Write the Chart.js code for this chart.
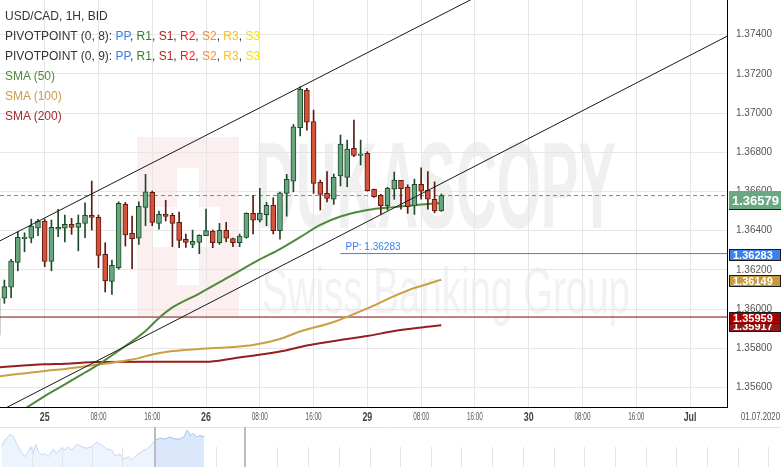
<!DOCTYPE html>
<html lang="en">
<head>
  <meta charset="UTF-8" />
  <title>USD/CAD, 1H, BID</title>
  <script src="https://cdn.jsdelivr.net/npm/chart.js@4.4.1/dist/chart.umd.min.js"></script>
  <style>
    html, body { margin: 0; padding: 0; background: #fff; }
    #wrap { position: relative; width: 781px; height: 467px; overflow: hidden; font-family: "Liberation Sans", Arial, sans-serif; }
    #main { position: absolute; left: 0; top: 0; }
    #nav { position: absolute; left: 0; top: 427px; }
    #legend { position: absolute; left: 5px; top: 6px; font-size: 12px; line-height: 20px; color: #333; white-space: nowrap; }
    .pp { color: #3c7fe6; } .r1 { color: #3a7d2c; } .s1 { color: #b22222; } .r2 { color: #ff1a1a; }
    .s2 { color: #ff8c1a; } .r3 { color: #ffc20e; } .s3 { color: #f2e40a; }
  </style>
</head>
<body>
  <div id="wrap">
    <canvas id="main" width="781" height="427"></canvas>
    <canvas id="nav" width="781" height="40"></canvas>
    <div id="legend">
      <div>USD/CAD, 1H, BID</div>
      <div>PIVOTPOINT (0, 8): <span class="pp">PP</span>, <span class="r1">R1</span>, <span class="s1">S1</span>, <span class="r2">R2</span>, <span class="s2">S2</span>, <span class="r3">R3</span>, <span class="s3">S3</span></div>
      <div>PIVOTPOINT (0, 9): <span class="pp">PP</span>, <span class="r1">R1</span>, <span class="s1">S1</span>, <span class="r2">R2</span>, <span class="s2">S2</span>, <span class="r3">R3</span>, <span class="s3">S3</span></div>
      <div style="color:#4e8a3c">SMA (50)</div>
      <div style="color:#c7a046">SMA (100)</div>
      <div style="color:#a4282c">SMA (200)</div>
    </div>
  </div>

  <script>
    // hour index of each candle, 0 = 25 Jun 00:00
    const HOURS = [];
    for (let h = -7; h <= 59; h++) HOURS.push(h);

    const OPEN = [1.35867,1.36055,1.36111,1.36238,1.36359,1.36361,1.36412,
      1.36449,1.36243,1.36407,1.36412,1.36432,1.36417,1.36437,1.36478,1.36468,1.36279,1.36141,1.36211,1.36534,1.36386,1.36361,1.36519,1.36595,1.36437,1.36485,1.36478,1.36442,1.36356,1.36330,1.36340,
      1.36374,1.36398,1.36339,1.36402,1.36359,1.36338,1.36366,1.36488,1.36453,1.36481,1.36529,1.36400,1.36590,1.36652,1.36925,1.37116,1.36956,1.36646,1.36590,1.36560,1.36679,1.36672,1.36820,1.36784,
      1.36794,1.36611,1.36580,1.36527,1.36612,1.36657,1.36621,1.36526,1.36636,1.36606,1.36560,1.36500];
    const HIGH = [1.36066,1.36148,1.36254,1.36394,1.36389,1.36458,1.36458,
      1.36459,1.36454,1.36509,1.36480,1.36463,1.36480,1.36542,1.36653,1.36480,1.36338,1.36250,1.36547,1.36544,1.36474,1.36547,1.36687,1.36602,1.36500,1.36555,1.36488,1.36495,1.36383,1.36403,1.36379,
      1.36510,1.36403,1.36437,1.36442,1.36362,1.36383,1.36491,1.36580,1.36616,1.36544,1.36568,1.36597,1.36687,1.36942,1.37134,1.37126,1.37015,1.36658,1.36701,1.36689,1.36888,1.36862,1.36964,1.36862,
      1.36803,1.36612,1.36585,1.36621,1.36699,1.36657,1.36634,1.36663,1.36721,1.36701,1.36649,1.36587];
    const LOW = [1.35842,1.36029,1.36058,1.36195,1.36292,1.36338,1.36374,
      1.36216,1.36195,1.36369,1.36343,1.36381,1.36297,1.36364,1.36403,1.36211,1.36087,1.36075,1.36203,1.36321,1.36206,1.36330,1.36425,1.36425,1.36407,1.36449,1.36318,1.36313,1.36315,1.36313,1.36282,
      1.36374,1.36313,1.36330,1.36343,1.36318,1.36318,1.36361,1.36383,1.36444,1.36425,1.36383,1.36356,1.36474,1.36598,1.36883,1.36913,1.36590,1.36505,1.36547,1.36534,1.36628,1.36624,1.36777,1.36735,
      1.36602,1.36570,1.36483,1.36505,1.36560,1.36510,1.36488,1.36483,1.36560,1.36510,1.36491,1.36498];
    const CLOSE = [1.36056,1.36114,1.36245,1.36366,1.36364,1.36423,1.36449,
      1.36243,1.36417,1.36417,1.36432,1.36417,1.36437,1.36478,1.36468,1.36274,1.36143,1.36223,1.36539,1.36378,1.36359,1.36524,1.36598,1.36442,1.36483,1.36473,1.36437,1.36350,1.36340,1.36345,1.36376,
      1.36400,1.36338,1.36402,1.36361,1.36338,1.36372,1.36488,1.36453,1.36488,1.36529,1.36400,1.36593,1.36662,1.36930,1.37121,1.36953,1.36641,1.36585,1.36565,1.36672,1.36842,1.36816,1.36784,1.36791,
      1.36604,1.36573,1.36527,1.36617,1.36658,1.36614,1.36522,1.36636,1.36602,1.36560,1.36500,1.36579];

    // moving averages, read at selected hours
    const SMA50_T = [-5,-3,0,3,6,8,12,15,17,19,23,27,32,35,38,41,44,48,52,56,59];
    const SMA50 = [1.35444,1.35490,1.35556,1.35615,1.35676,1.35717,1.35811,1.35888,1.35954,1.36008,1.36079,1.36156,1.36253,1.36306,1.36367,1.36429,1.36472,1.36505,1.36520,1.36533,1.36541];
    const SMA100_T = [-7,0,3,8,13,16,18,23,28,31,35,38,43,48,52,55,59];
    const SMA100 = [1.35656,1.35684,1.35694,1.35717,1.35742,1.35768,1.35781,1.35796,1.35806,1.35816,1.35847,1.35885,1.35934,1.36003,1.36066,1.36107,1.36149];
    const SMA200_T = [-7,0,3,8,16,24,28,35,39,45,48,52,56,59];
    const SMA200 = [1.35702,1.35718,1.35721,1.35730,1.35731,1.35731,1.35748,1.35783,1.35814,1.35847,1.35862,1.35888,1.35906,1.35917];

    // channel lines (two points each)
    const CHAN_T = [-6.65, 101.5];
    const CHAN_UPPER = [1.36348, 1.38248];
    const CHAN_LOWER = [1.35480, 1.37392];

    const PIVOT = 1.36283, PIVOT_FROM = 44;
    const LAST_PRICE = 1.36579;
    const LEVEL = 1.35959;

    const X_MIN = -6.65, X_MAX = 101.5;
    const Y_MIN = 1.35500, Y_MAX = 1.37577;
    const TICK_HOURS = [0,8,16,24,32,40,48,56,64,72,80,88,96];
    const TICK_LABELS = ["25","08:00","16:00","26","08:00","16:00","29","08:00","16:00","30","08:00","16:00","Jul"];
    const Y_TICKS = [1.356,1.358,1.360,1.362,1.364,1.366,1.368,1.370,1.372,1.374,1.376];

    // navigator (overview strip)
    const NAV_T = [1.7,5,10,13.3,16.7,20,25,28.3,30.7,33.3,35.7,38.3,41.7,45,48.3,53.3,56.7,61.7,65,68.3,71.7,76.7,81.7,86.7,91.7,96.7,101.7,106.7,111.7,115,120,124,128.3,131.7,136.7,141.7,146.7,151.7,155,160,165,170,175,180,184,187.3,190.7,193.3,196.7,200,204];
    const NAV_V = [20.3,27,32.7,30.3,23.7,17,10.3,15.3,20.3,13.7,22.7,15.3,12,13.7,10.3,18,13.7,19.3,17,20.3,17,22.7,20.3,18.7,20.3,24.7,22,18,17,11.3,12.7,8,10.3,7,12,15.3,18,22.7,27,28.7,28,30,28,28,30.3,37,31.3,33.7,30.3,31.3,30.3];
    const NAV_SPLIT = 155;
    const NAV_HANDLES = [154.5, 245];
    const NAV_TICKS = [32,62,92,122,185,216,277,308,339,370,400,431,461,492,523,554,584,615,646,676,707,738,768];

    const UP_FILL = "#68a67d", UP_LINE = "#1d4a2b";
    const DN_FILL = "#d5533b", DN_LINE = "#5e1a10";
    const SANS = '"Liberation Sans", Arial, sans-serif';

    const isUp = k => CLOSE[k] >= OPEN[k];
    const isDay = s => s.indexOf(":") < 0;
    const pts = (ts, vs) => ts.map((t, k) => ({ x: t, y: vs[k] }));

    // narrow text, squeezed horizontally like the original terminal font
    function narrowText(c, text, x, y, font, align, squeeze) {
      c.save();
      c.font = font;
      const w = c.measureText(text).width * squeeze;
      const left = align === "center" ? x - w / 2 : align === "right" ? x - w : x;
      c.translate(left, y);
      c.scale(squeeze, 1);
      c.textAlign = "left";
      c.textBaseline = "middle";
      c.fillText(text, 0, 0);
      c.restore();
    }

    // faint background branding
    const watermark = {
      id: "watermark",
      beforeDraw(chart) {
        const c = chart.ctx;
        c.save();
        c.fillStyle = "#fcefef";
        c.fillRect(137, 137, 102, 179);
        c.fillStyle = "#fff";
        c.fillRect(177, 168, 22, 117);
        c.fillRect(153, 207, 67, 40);

        c.fillStyle = "#f0f0f0";
        c.font = "bold 123px " + SANS;
        let w = c.measureText("DUKASCOPY").width;
        c.save(); c.translate(255, 228); c.scale(361 / w, 1); c.fillText("DUKASCOPY", 0, 0); c.restore();

        c.fillStyle = "#f2f2f2";
        c.font = "64px " + SANS;
        w = c.measureText("Swiss Banking Group").width;
        c.save(); c.translate(262, 313); c.scale(368 / w, 1); c.fillText("Swiss Banking Group", 0, 0); c.restore();
        c.restore();
      }
    };

    // x labels, price tags on the right axis, pivot label, date label
    const overlays = {
      id: "overlays",
      afterDraw(chart) {
        const c = chart.ctx, ys = chart.scales.y, xs = chart.scales.x;
        c.save();
        const ly = xs.bottom - 10;
        xs.ticks.forEach((t, i) => {
          const s = TICK_LABELS[i];
          const px = xs.getPixelForValue(t.value);
          c.fillStyle = isDay(s) ? "#444" : "#555";
          narrowText(c, s, px, ly, isDay(s) ? "bold 13px " + SANS : "10px " + SANS, "center", isDay(s) ? 0.68 : 0.64);
        });
        c.fillStyle = "#555";
        narrowText(c, "01.07.2020", 780, ly, "10px " + SANS, "right", 0.78);

        const tag = (v, fill, big) => {
          const py = Math.round(ys.getPixelForValue(v));
          const h = big ? 18 : 11, top = py - 5;
          c.fillStyle = fill;
          c.fillRect(729, top, 52, h);
          if (!big) { c.strokeStyle = "#1a1a1a"; c.lineWidth = 1; c.strokeRect(729.5, top + 0.5, 51, h); }
          c.fillStyle = "#fff";
          c.font = big ? "bold 13px " + SANS : "bold 11px " + SANS;
          c.textBaseline = "middle";
          c.textAlign = "left";
          c.fillText(v.toFixed(5), big ? 732 : 733, top + h / 2 + 1);
        };
        tag(SMA50[SMA50.length - 1], "#3c7a3c", false);
        tag(LAST_PRICE, "#6aa882", true);
        tag(PIVOT, "#3b82ec", false);
        tag(SMA100[SMA100.length - 1], "#c59a3e", false);
        tag(SMA200[SMA200.length - 1], "#8e1b1b", false);
        tag(LEVEL, "#a80000", false);

        c.fillStyle = "#3b82ec";
        c.font = "10px " + SANS;
        c.textAlign = "left";
        c.textBaseline = "alphabetic";
        c.fillText("PP: " + PIVOT.toFixed(5), xs.getPixelForValue(PIVOT_FROM) + 5, ys.getPixelForValue(PIVOT) - 4);
        c.restore();
      }
    };

    new Chart(document.getElementById("main"), {
      type: "bar",
      data: {
        datasets: [
          {
            type: "bar", order: 0, grouped: false,
            data: HOURS.map((h, k) => ({ x: h, y: [OPEN[k], CLOSE[k]] })),
            barThickness: 5, minBarLength: 1.5, borderWidth: 1, borderSkipped: false,
            backgroundColor: ctx => isUp(ctx.dataIndex) ? UP_FILL : DN_FILL,
            borderColor: ctx => isUp(ctx.dataIndex) ? UP_LINE : DN_LINE
          },
          {
            type: "bar", order: 1, grouped: false,
            data: HOURS.map((h, k) => ({ x: h, y: [LOW[k], HIGH[k]] })),
            barThickness: 1, borderWidth: 0,
            backgroundColor: ctx => isUp(ctx.dataIndex) ? UP_LINE : DN_LINE
          },
          { type: "line", order: 2, data: pts(SMA50_T, SMA50), borderColor: "#4e8a3c", borderWidth: 2, pointRadius: 0, cubicInterpolationMode: "monotone" },
          { type: "line", order: 2, data: pts(SMA100_T, SMA100), borderColor: "#c9a043", borderWidth: 2, pointRadius: 0, cubicInterpolationMode: "monotone" },
          { type: "line", order: 2, data: pts(SMA200_T, SMA200), borderColor: "#961e1e", borderWidth: 2, pointRadius: 0, cubicInterpolationMode: "monotone" },
          { type: "line", order: -1, data: pts(CHAN_T, CHAN_UPPER), borderColor: "#1a1a1a", borderWidth: 1, pointRadius: 0 },
          { type: "line", order: -1, data: pts(CHAN_T, CHAN_LOWER), borderColor: "#1a1a1a", borderWidth: 1, pointRadius: 0 },
          { type: "line", order: 3, data: [{ x: X_MIN, y: LAST_PRICE }, { x: X_MAX, y: LAST_PRICE }], borderColor: "#5f9c74", borderWidth: 1, borderDash: [4, 3], pointRadius: 0 },
          { type: "line", order: 3, data: [{ x: X_MIN, y: LEVEL }, { x: X_MAX, y: LEVEL }], borderColor: "#8b0000", borderWidth: 1, pointRadius: 0 },
          { type: "line", order: 3, data: [{ x: PIVOT_FROM, y: PIVOT }, { x: X_MAX, y: PIVOT }], borderColor: "#3b82ec", borderWidth: 1, pointRadius: 0 }
        ]
      },
      options: {
        responsive: false,
        animation: false,
        layout: { padding: 0 },
        plugins: { legend: { display: false }, tooltip: { enabled: false } },
        scales: {
          x: {
            type: "linear", min: X_MIN, max: X_MAX, offset: false,
            afterBuildTicks: s => { s.ticks = TICK_HOURS.map(v => ({ value: v })); },
            afterFit: s => { s.height = 20; s.paddingLeft = 0; s.paddingRight = 0; },
            grid: { color: "#e6e6e6", drawTicks: false, offset: false },
            border: { color: "#000", width: 1 },
            ticks: { display: false, autoSkip: false, callback: (v, i) => TICK_LABELS[i] }
          },
          y: {
            type: "linear", position: "right", min: Y_MIN, max: Y_MAX, beginAtZero: false,
            afterBuildTicks: s => { s.ticks = Y_TICKS.map(v => ({ value: v })); },
            afterFit: s => { s.width = 54; s.paddingTop = 0; s.paddingBottom = 0; },
            grid: { color: "#e6e6e6", drawTicks: false },
            border: { color: "#000", width: 1 },
            ticks: {
              padding: 9, color: "#555",
              font: { family: SANS, size: 10 },
              callback: v => v.toFixed(5)
            }
          }
        }
      },
      plugins: [watermark, overlays]
    });

    const navDecor = {
      id: "navDecor",
      afterDatasetsDraw(chart) {
        const c = chart.ctx, xs = chart.scales.x, h = chart.height;
        c.save();
        c.strokeStyle = "#e4e4e4";
        c.lineWidth = 1;
        NAV_TICKS.forEach(t => {
          const px = Math.round(xs.getPixelForValue(t)) + 0.5;
          c.beginPath(); c.moveTo(px, h - 20); c.lineTo(px, h); c.stroke();
        });
        c.beginPath(); c.moveTo(0, 0.5); c.lineTo(chart.width, 0.5); c.stroke();
        c.strokeStyle = "#bdbdbd";
        c.lineWidth = 2;
        NAV_HANDLES.forEach(t => {
          const px = Math.round(xs.getPixelForValue(t));
          c.beginPath(); c.moveTo(px, 0); c.lineTo(px, h); c.stroke();
        });
        c.restore();
      }
    };

    const navAll = pts(NAV_T, NAV_V);
    new Chart(document.getElementById("nav"), {
      type: "line",
      data: {
        datasets: [
          { data: navAll.filter(p => p.x <= NAV_SPLIT), fill: "start", backgroundColor: "#eef4fd", borderColor: "#c3d6f4", borderWidth: 1, pointRadius: 0 },
          { data: navAll.filter(p => p.x >= NAV_SPLIT), fill: "start", backgroundColor: "#dbe7fb", borderColor: "#a6c3ef", borderWidth: 1, pointRadius: 0 }
        ]
      },
      options: {
        responsive: false,
        animation: false,
        layout: { padding: 0 },
        plugins: { legend: { display: false }, tooltip: { enabled: false } },
        scales: {
          x: { type: "linear", display: false, min: 0, max: 781 },
          y: { display: false, min: 0, max: 40 }
        }
      },
      plugins: [navDecor]
    });
  </script>
</body>
</html>
